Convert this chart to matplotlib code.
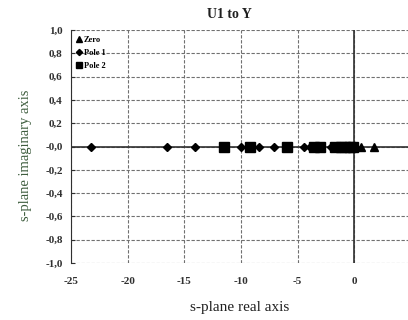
import numpy as np
import matplotlib
matplotlib.use('Agg')
import matplotlib.pyplot as plt

plt.rcParams['font.family'] = ['Liberation Serif', 'DejaVu Serif']

# zeros and poles (real axis)
zero_re = [0.6, 1.7]
pole1_re = [-23.2, -16.5, -14.1, -10.0, -8.4, -7.1, -4.4, -3.9, -3.3,
            -2.1, -1.5, -0.9, -0.3]
pole2_re = [-11.5, -9.2, -5.9, -3.6, -3.0, -1.7, -1.2, -0.8, -0.4, -0.1]

xticks = [-25, -20, -15, -10, -5, 0]
yticks = np.round(np.arange(-1.0, 1.01, 0.2), 1)

fig = plt.figure(figsize=(4.08, 3.2), dpi=100)
ax = fig.add_axes([71/408, 57/320, 340/408, 233/320])

ax.set_xlim(-25, 5)
ax.set_ylim(-1.0, 1.0)
ax.set_xticks(xticks)
ax.set_yticks(yticks)
ax.set_xticklabels([str(t) for t in xticks])
ax.set_yticklabels([('%.1f' % t).replace('.', ',') for t in yticks])

# dashed grid
ax.grid(True, color='#707070', linestyle=(0, (3, 1.5)), linewidth=0.8)
ax.set_axisbelow(True)
ax.axhline(0, color='#303030', lw=1.2, zorder=1)
ax.axvline(0, color='#303030', lw=1.2, zorder=1)

for s in ['top', 'right', 'bottom']:
    ax.spines[s].set_visible(False)
ax.spines['left'].set_color('#303030')
ax.tick_params(axis='both', length=3, direction='in', labelsize=8, pad=6,
               colors='#303030')
ax.tick_params(axis='x', length=0, pad=10)
for lb in ax.get_xticklabels() + ax.get_yticklabels():
    lb.set_fontweight('bold')

ax.plot(zero_re, np.zeros(len(zero_re)), linestyle='none', marker='^',
        color='black', markersize=6, label='Zero', zorder=3)
ax.plot(pole1_re, np.zeros(len(pole1_re)), linestyle='none', marker='D',
        color='black', markersize=4.5, label='Pole 1', zorder=3)
ax.plot(pole2_re, np.zeros(len(pole2_re)), linestyle='none', marker='s',
        color='black', markersize=6.5, label='Pole 2', zorder=3)

leg = ax.legend(loc='upper left', frameon=False, fontsize=6,
                handlelength=0.4, handletextpad=0.4, labelspacing=0.6,
                borderaxespad=0.25, borderpad=0.5, markerscale=0.7)
for t in leg.get_texts():
    t.set_fontweight('bold')

fig.text(229/408, 1 - 14/320, 'U1 to Y', ha='center', va='center',
         fontsize=10, fontweight='bold', color='#202020')
fig.text(240/408, 1 - 308/320, 's-plane real axis', ha='center',
         va='center', fontsize=11, color='#202020')
fig.text(26/408, 1 - 155/320, 's-plane imaginary axis', ha='center',
         va='center', rotation=90, fontsize=10.5, color='#3d5c3d')

fig.savefig('out.png', dpi=100)
